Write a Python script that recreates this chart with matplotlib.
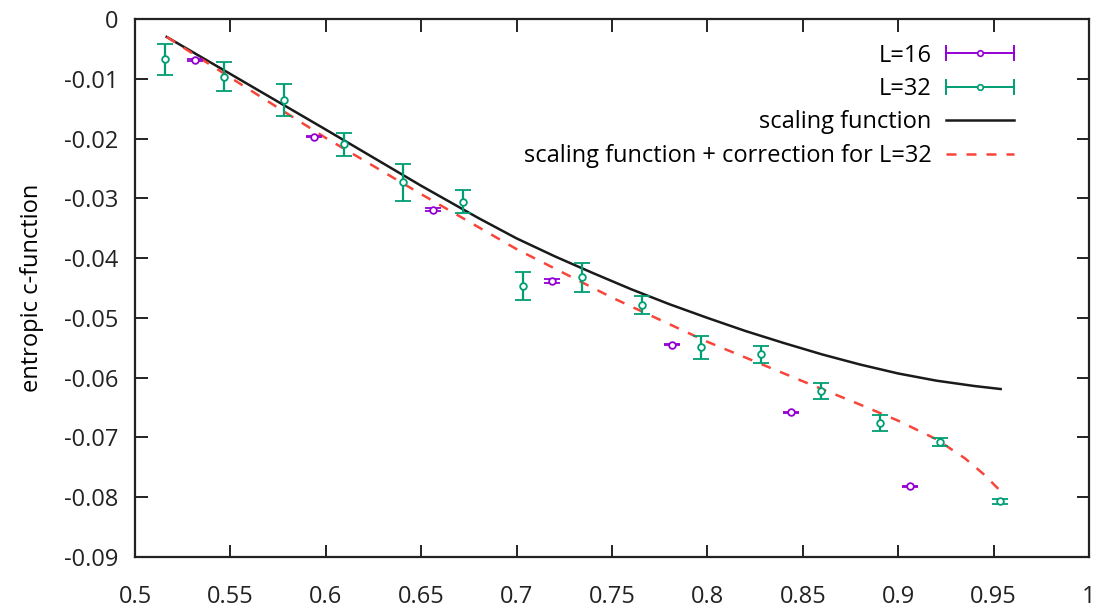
import matplotlib
matplotlib.use("Agg")
import matplotlib.pyplot as plt
from matplotlib.lines import Line2D
from matplotlib.legend_handler import HandlerBase

plt.rcParams['font.family'] = ['Open Sans', 'DejaVu Sans']

# ---- data ----
x16 = [0.53125, 0.59375, 0.65625, 0.71875, 0.78125, 0.84375, 0.90625]
y16 = [-0.00686, -0.0197, -0.0319, -0.0438, -0.0545, -0.0658, -0.0782]
e16 = [0.0001, 0.0001, 0.0003, 0.0003, 0.0001, 0.0001, 0.0001]

x32 = [0.515625, 0.546875, 0.578125, 0.609375, 0.640625, 0.671875, 0.703125,
       0.734375, 0.765625, 0.796875, 0.828125, 0.859375, 0.890625, 0.921875,
       0.953125]
y32 = [-0.00675, -0.00964, -0.01355, -0.02096, -0.0273, -0.03055, -0.04465,
       -0.0432, -0.0478, -0.0549, -0.0561, -0.0622, -0.0676, -0.0708, -0.0807]
e32 = [0.0026, 0.0024, 0.0026, 0.0019, 0.0031, 0.0019, 0.0024,
       0.0024, 0.0015, 0.0019, 0.0014, 0.00134, 0.0014, 0.0007, 0.0004]

xs_scal = [0.5166, 0.55, 0.60, 0.65, 0.68, 0.70, 0.72, 0.74, 0.76, 0.78, 0.80,
           0.82, 0.84, 0.86, 0.88, 0.90, 0.92, 0.94, 0.9537]
ys_scal = [-0.0030, -0.0092, -0.0185, -0.0279, -0.0333, -0.0367, -0.0397,
           -0.0425, -0.0452, -0.0477, -0.0500, -0.0522, -0.0542, -0.0561,
           -0.0578, -0.0593, -0.0605, -0.0614, -0.0619]

xs_corr = [0.5166, 0.55, 0.60, 0.65, 0.70, 0.75, 0.80, 0.85, 0.88, 0.90, 0.92,
           0.935, 0.945, 0.9537]
ys_corr = [-0.0030, -0.0098, -0.0199, -0.0293, -0.0385, -0.0466, -0.0540,
           -0.0606, -0.0645, -0.0672, -0.0703, -0.0735, -0.0762, -0.0790]

xticks = [0.5, 0.55, 0.6, 0.65, 0.7, 0.75, 0.8, 0.85, 0.9, 0.95, 1.0]
xticklabels = ["0.5", "0.55", "0.6", "0.65", "0.7", "0.75", "0.8", "0.85", "0.9", "0.95", "1"]
yticks = [0, -0.01, -0.02, -0.03, -0.04, -0.05, -0.06, -0.07, -0.08, -0.09]
yticklabels = ["0", "-0.01", "-0.02", "-0.03", "-0.04", "-0.05", "-0.06", "-0.07", "-0.08", "-0.09"]

labels = ["L=16", "L=32", "scaling function", "scaling function + correction for L=32"]

C16 = '#9400d3'
C32 = '#009e73'
CBLK = '#1a1a1a'
CRED = '#f8453a'

fig = plt.figure(figsize=(10.95, 6.08), dpi=100)
ax = fig.add_axes([135/1095, 51/608, 954/1095, 538/608])

ebkw = dict(fmt='o', ms=4.8, mfc='white', mew=1.3, elinewidth=1.6,
            capsize=5.8, capthick=1.6)
e1 = ax.errorbar(x16, y16, yerr=e16, color=C16, zorder=3, **ebkw)
e2 = ax.errorbar(x32, y32, yerr=e32, color=C32, zorder=3, **ebkw)
l1, = ax.plot(xs_scal, ys_scal, color=CBLK, lw=1.8, zorder=2)
l2, = ax.plot(xs_corr, ys_corr, color=CRED, lw=1.8, ls=(0, (4, 4)), zorder=2)


class HandlerGnuErr(HandlerBase):
    def __init__(self, color):
        super().__init__()
        self.color = color

    def create_artists(self, legend, orig_handle, xdescent, ydescent,
                       width, height, fontsize, trans):
        y = height / 2 - ydescent
        x0 = -xdescent
        x1 = x0 + width
        h = 0.3 * fontsize
        arts = [
            Line2D([x0, x1], [y, y], color=self.color, lw=1.4),
            Line2D([x0, x0], [y - h, y + h], color=self.color, lw=1.4),
            Line2D([x1, x1], [y - h, y + h], color=self.color, lw=1.4),
            Line2D([(x0 + x1) / 2], [y], marker='o', ms=4, mfc='white',
                   mec=self.color, mew=1.2, ls='none'),
        ]
        for a in arts:
            a.set_transform(trans)
        return arts


leg = ax.legend([e1, e2, l1, l2], labels, loc='upper right',
                bbox_to_anchor=(0.939, 0.985), frameon=False, markerfirst=False,
                fontsize=17, handlelength=2.9, handletextpad=0.6,
                labelspacing=0.4, borderpad=0.2,
                handler_map={e1: HandlerGnuErr(C16), e2: HandlerGnuErr(C32)})

ax.set_xlim(0.5, 1.0)
ax.set_ylim(-0.09, 0)
ax.set_xticks(xticks)
ax.set_xticklabels(xticklabels)
ax.set_yticks(yticks)
ax.set_yticklabels(yticklabels)
ax.tick_params(direction='in', length=9, width=1.4, labelsize=17,
               top=True, right=True, pad=12, colors='#222222')
ax.tick_params(axis='x', pad=20)
for sp in ax.spines.values():
    sp.set_linewidth(1.6)
    sp.set_color('#222222')
ax.set_ylabel("entropic c-function", fontsize=17, labelpad=14)

fig.savefig("out.png", dpi=100)
